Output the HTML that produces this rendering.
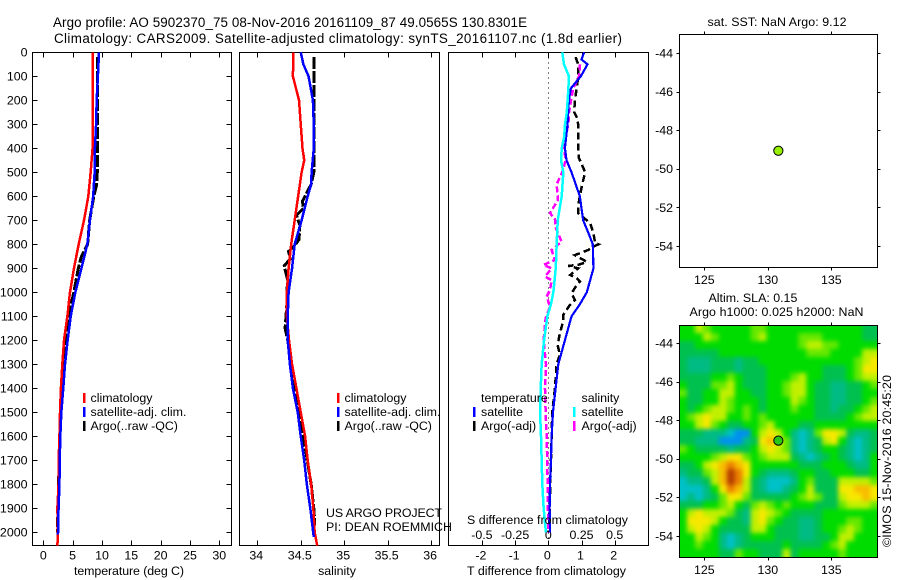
<!DOCTYPE html>
<html>
<head>
<meta charset="utf-8">
<title>Argo profile</title>
<style>
html,body{margin:0;padding:0;background:#fff;}
svg{display:block;}
text{font-family:"Liberation Sans",sans-serif;font-size:12.4px;fill:#000;}
</style>
</head>
<body>
<svg id="chart" xmlns="http://www.w3.org/2000/svg" width="900" height="580" viewBox="0 0 900 580">
<defs>
<clipPath id="clip-temp"><rect x="32" y="52" width="200" height="494"/></clipPath>
<clipPath id="clip-sal"><rect x="239" y="52" width="201" height="494"/></clipPath>
<clipPath id="clip-diff"><rect x="448" y="52" width="201" height="494"/></clipPath>
<clipPath id="clip-heat"><rect x="679" y="325" width="199" height="232"/></clipPath>
<filter id="heat-blur" filterUnits="userSpaceOnUse" x="650" y="300" width="250" height="280" color-interpolation-filters="sRGB"><feGaussianBlur stdDeviation="2.3"/></filter>
</defs>
<rect x="0" y="0" width="900" height="580" fill="#fff"/>

<text x="53" y="27" style="font-size:13.4px" textLength="474">Argo profile: AO 5902370_75 08-Nov-2016 20161109_87 49.0565S 130.8301E</text>
<text x="54" y="43" style="font-size:13.4px" textLength="568">Climatology: CARS2009. Satellite-adjusted climatology: synTS_20161107.nc (1.8d earlier)</text>

<g id="layer-heat"></g>
<g id="layer-axes"></g>
<g id="layer-series"></g>

<text x="129" y="575" text-anchor="middle" textLength="110">temperature (deg C)</text>
<text x="337" y="575" text-anchor="middle">salinity</text>
<text x="546.5" y="575" text-anchor="middle" textLength="159">T difference from climatology</text>
<text x="467" y="524" textLength="161">S difference from climatology</text>

<g>
<rect x="83" y="393" width="2.5" height="10" fill="#f00"/>
<text x="90.5" y="402">climatology</text>
<rect x="83" y="407" width="2.5" height="10" fill="#00f"/>
<text x="90.5" y="416" textLength="96">satellite-adj. clim.</text>
<rect x="83" y="421" width="2.5" height="10" fill="#000"/>
<text x="90.5" y="430">Argo(..raw -QC)</text>
</g>
<g>
<rect x="337" y="393" width="2.5" height="10" fill="#f00"/>
<text x="344.5" y="402">climatology</text>
<rect x="337" y="407" width="2.5" height="10" fill="#00f"/>
<text x="344.5" y="416" textLength="96">satellite-adj. clim.</text>
<rect x="337" y="421" width="2.5" height="10" fill="#000"/>
<text x="344.5" y="430">Argo(..raw -QC)</text>
</g>
<text x="326" y="517" textLength="116">US ARGO PROJECT</text>
<text x="326" y="531" textLength="126">PI: DEAN ROEMMICH</text>

<g>
<text x="481" y="402">temperature</text>
<rect x="473" y="407" width="2.5" height="10" fill="#00f"/>
<text x="481" y="416">satellite</text>
<rect x="473" y="421" width="2.5" height="10" fill="#000"/>
<text x="481" y="430">Argo(-adj)</text>
<text x="581.5" y="402">salinity</text>
<rect x="573" y="407" width="2.5" height="10" fill="#0ff"/>
<text x="581.5" y="416">satellite</text>
<rect x="573" y="421" width="2.5" height="10" fill="#f0f"/>
<text x="581.5" y="430">Argo(-adj)</text>
</g>

<text x="777" y="26" text-anchor="middle" textLength="139">sat. SST: NaN Argo: 9.12</text>
<text x="708.5" y="302">Altim. SLA: 0.15</text>
<text x="689.5" y="316" textLength="174">Argo h1000: 0.025 h2000: NaN</text>
<text transform="translate(891,547) rotate(-90)" textLength="172">©IMOS 15-Nov-2016 20:45:20</text>
</svg>

<script>
// ---- chart data ----
const depthTicks = [0,100,200,300,400,500,600,700,800,900,1000,1100,1200,1300,1400,1500,1600,1700,1800,1900,2000];
const tempTicks = [0,5,10,15,20,25,30];
const salTicks = [34,34.5,35,35.5,36];
const salTickLabels = ['34','34.5','35','35.5','36'];
const tDiffTicks = [-2,-1,0,1,2];
const sDiffTicks = [-0.5,-0.25,0,0.25,0.5];
const sDiffTickLabels = ['-0.5','-0.25','0','0.25','0.5'];
const lonTicks = [125,130,135];
const latTicks = [-44,-46,-48,-50,-52,-54];

const climDepths = [0,100,200,300,400,500,600,700,800,900,1000,1100,1200,1300,1400,1500,1600,1700,1800,1900,2000,2056];
const tempClim = [8.4,8.4,8.4,8.4,8.4,8.07,7.67,6.94,6.03,5.23,4.55,4.1,3.53,3.24,3.0,2.85,2.75,2.62,2.6,2.4,2.5,2.4];
const satDepths = [0,100,200,300,400,500,600,700,800,900,1000,1100,1200,1300,1400,1500,1600,1700,1800,1900,2010];
const tempSat = [9.5,9.3,9.1,9.0,8.8,8.75,8.5,7.95,7.5,6.5,5.46,4.67,4.15,3.7,3.4,3.07,2.9,2.8,2.75,2.6,2.5];
const argoTempDepths = [20,200,500,550,600,700,800,850,900,1000,1100,1200,1300,1400,1500,2000];
const tempArgo = [9.2,9.2,9.2,9.1,8.6,7.9,7.55,6.5,5.97,5.2,4.3,4.0,3.4,3.15,2.9,2.4];

const salClimDepths = [0,100,200,300,400,450,500,600,700,800,900,1000,1100,1200,1300,1400,1500,1600,1700,1800,1900,2000,2056];
const salClim = [34.414,34.41,34.48,34.5,34.52,34.54,34.51,34.47,34.43,34.39,34.36,34.34,34.34,34.365,34.4,34.45,34.5,34.55,34.58,34.62,34.645,34.66,34.69];
const salSatDepths = [0,50,100,200,300,400,500,550,600,700,800,900,1000,1100,1200,1300,1400,1500,1600,1700,1800,1900,2020];
const salSat = [34.5,34.53,34.59,34.64,34.65,34.65,34.625,34.62,34.58,34.51,34.43,34.4,34.36,34.35,34.35,34.375,34.41,34.465,34.5,34.54,34.57,34.61,34.65];
const salArgoDepths = [20,500,550,600,620,650,680,700,720,780,810,830,860,890,920,950,1000,1050,1100,1150,1200,1300,1400,1500,1600,1700,1800,1900,1950,2000];
const salArgo = [34.65,34.65,34.62,34.55,34.52,34.53,34.45,34.47,34.49,34.48,34.42,34.36,34.38,34.31,34.33,34.35,34.34,34.34,34.33,34.32,34.35,34.39,34.44,34.49,34.53,34.575,34.62,34.65,34.66,34.65];

const tDiffSatDepths = [0,30,50,100,150,200,300,400,450,500,600,700,750,800,900,1000,1050,1100,1200,1300,1400,1500,1600,1700,1800,1900,2000];
const tDiffSat = [1.08,1.0,1.18,0.98,0.68,0.62,0.58,0.5,0.55,0.7,0.95,1.05,1.2,1.34,1.36,1.16,0.95,0.7,0.5,0.3,0.22,0.14,0.1,0.08,0.05,0.04,0.05];
const sDiffSatDepths = [0,50,100,150,200,250,300,350,400,450,500,600,700,800,900,1000,1050,1100,1200,1300,1400,1500,1600,1700,1800,1900,2000];
const sDiffSat = [0.105,0.118,0.156,0.151,0.146,0.139,0.126,0.12,0.101,0.096,0.113,0.101,0.071,0.063,0.056,0.038,0.02,-0.007,-0.032,-0.05,-0.057,-0.062,-0.055,-0.05,-0.045,-0.035,-0.018];
const tDiffArgoDepths = [20,50,100,150,200,250,270,300,350,400,440,480,500,550,600,640,670,712,754,795,800,810,824,845,873,886,890,900,928,941,955,969,1004,1032,1053,1094,1120,1170,1220,1260,1300,1400,1500,2000];
const tDiffArgo = [0.82,0.9,0.9,0.855,0.8,0.78,0.855,0.9,0.9,0.9,0.92,1.05,1.11,1.02,0.95,0.9,0.9,1.26,1.36,1.41,1.51,1.36,1.2,0.8,1.16,0.9,0.6,0.9,0.66,0.86,0.96,0.86,0.7,0.8,0.65,0.45,0.45,0.35,0.28,0.35,0.25,0.2,0.12,0.02];
const sDiffArgoDepths = [50,100,150,200,250,300,350,400,450,500,550,615,670,695,730,789,824,865,886,900,935,949,990,1018,1060,1107,1200,1300,1400,1500,1600,1800,2000];
const sDiffArgo = [0.239,0.231,0.188,0.171,0.156,0.151,0.131,0.118,0.131,0.105,0.063,0.073,0.013,0.05,0.055,0.1,0.025,0.05,-0.037,0.025,-0.025,0.025,0.013,-0.012,0.013,-0.02,-0.035,-0.017,-0.025,-0.02,-0.012,-0.005,0];

const argoLon = [130.83];
const argoLat = [-49.0565];

// SLA map, one digit per cell (0 low ... a high)
const slaRows = [
"4465444445544444444444433",
"4446544445644445554444433",
"3344444444444445665544444",
"3333344444444444555444466",
"3222333233444444444444567",
"3222333233344444443334577",
"3333445433344456443334566",
"4333556433344566433223345",
"5334466443344566433223344",
"4334465444344465433223345",
"4345665454344454433233456",
"4567664454544444433334566",
"4467543344564443344444444",
"3332221004676421257763223",
"3322200023787521236742123",
"5433332334676521234432123",
"4444567754566632123432124",
"3346789874444443334443224",
"233568a974322234433444334",
"122368a963211124533366665",
"1112479863211234633377887",
"1212357753333345653367787",
"3334456435654544433356665",
"4676665326765433334444444",
"4777643326754332234445544",
"4676433336643332234456544",
"4465421234443332233466444",
"4454421233333433334564444",
"4444433544333634444454444"
];
const slaColors = ['#0090f0','#00c0c8','#00bc84','#00c050','#00dc00','#66e800','#c0f000','#f8e800','#f8bc00','#ec8000','#b43c00'];

// ---- scales ----
const NS = 'http://www.w3.org/2000/svg';
const yDepth = d => 52.3 + 0.24 * d;
const xTemp = v => 43.3 + 5.867 * v;
const xSal = v => 257.3 + 86.9 * (v - 34);
const xTDiff = v => 548.3 + 33.2 * v;
const xSDiff = v => 548.3 + 132.8 * v;
const xLon = v => 704.3 + 12.7 * (v - 125);
const yLat1 = v => 53.3 + 19.27 * (-44 - v);
const yLat2 = v => 343 + 19.3 * (-44 - v);

const axesLayer = document.getElementById('layer-axes');
const seriesLayer = document.getElementById('layer-series');
const heatLayer = document.getElementById('layer-heat');

function addLine(parent, x1, y1, x2, y2, name) {
  const el = document.createElementNS(NS, 'line');
  
  
  el.setAttribute('x1', Math.round(x1) + 0.5);
  el.setAttribute('y1', Math.round(y1) + 0.5);
  el.setAttribute('x2', Math.round(x2) + 0.5);
  el.setAttribute('y2', Math.round(y2) + 0.5);
  el.setAttribute('stroke', '#000');
  el.setAttribute('stroke-width', '1');
  el.setAttribute('shape-rendering', 'crispEdges');
  parent.appendChild(el);
  return el;
}
function addLabel(parent, x, y, str, anchor, name) {
  const el = document.createElementNS(NS, 'text');
  
  
  el.setAttribute('x', x);
  el.setAttribute('y', y);
  el.setAttribute('text-anchor', anchor);
  el.textContent = str;
  parent.appendChild(el);
  return el;
}
function addFrame(x, y, w, h, name) {
  const el = document.createElementNS(NS, 'rect');
  
  
  el.setAttribute('x', x + 0.5);
  el.setAttribute('y', y + 0.5);
  el.setAttribute('width', w);
  el.setAttribute('height', h);
  el.setAttribute('fill', 'none');
  el.setAttribute('stroke', '#000');
  el.setAttribute('stroke-width', '1');
  el.setAttribute('shape-rendering', 'crispEdges');
  axesLayer.appendChild(el);
}
function addSeries(clipId, xs, depths, scale, color, width, dash, name) {
  const el = document.createElementNS(NS, 'polyline');
  
  
  el.setAttribute('points', depths.map((d, i) => scale(xs[i]).toFixed(2) + ',' + yDepth(d).toFixed(2)).join(' '));
  el.setAttribute('fill', 'none');
  el.setAttribute('stroke', color);
  el.setAttribute('stroke-width', width);
  if (dash) el.setAttribute('stroke-dasharray', dash);
  el.setAttribute('clip-path', 'url(#' + clipId + ')');
  el.setAttribute('shape-rendering', 'crispEdges');
  seriesLayer.appendChild(el);
}
function addMarker(cx, cy, fill, name) {
  const el = document.createElementNS(NS, 'circle');
  
  
  el.setAttribute('cx', cx);
  el.setAttribute('cy', cy);
  el.setAttribute('r', '4.6');
  el.setAttribute('fill', fill);
  el.setAttribute('stroke', '#000');
  el.setAttribute('stroke-width', '1');
  seriesLayer.appendChild(el);
}

// ---- panel frames ----
const P1 = {l:32, r:231, t:52, b:545};
const P2 = {l:239, r:439, t:52, b:545};
const P3 = {l:448, r:648, t:52, b:545};
addFrame(P1.l, P1.t, P1.r - P1.l, P1.b - P1.t, 'temperature-plot-frame');
addFrame(P2.l, P2.t, P2.r - P2.l, P2.b - P2.t, 'salinity-plot-frame');
addFrame(P3.l, P3.t, P3.r - P3.l, P3.b - P3.t, 'difference-plot-frame');

// depth axis
depthTicks.forEach(d => {
  const y = yDepth(d);
  addLine(axesLayer, P1.l, y, P1.l + 5, y, 'depth-tick');
  addLine(axesLayer, P1.r - 5, y, P1.r, y, 'depth-tick');
  addLabel(axesLayer, 27.5, y + 4.3, String(d), 'end', 'depth-tick-label');
});
// temperature axis
tempTicks.forEach(v => {
  const x = xTemp(v);
  addLine(axesLayer, x, P1.t, x, P1.t + 5, 'temperature-tick');
  addLine(axesLayer, x, P1.b - 5, x, P1.b, 'temperature-tick');
  addLabel(axesLayer, x, 559.5, String(v), 'middle', 'temperature-tick-label');
});
// salinity axis
salTicks.forEach((v, i) => {
  const x = xSal(v);
  addLine(axesLayer, x, P2.t, x, P2.t + 5, 'salinity-tick');
  addLine(axesLayer, x, P2.b - 5, x, P2.b, 'salinity-tick');
  addLabel(axesLayer, x - 1, 559.5, salTickLabels[i], 'middle', 'salinity-tick-label');
});
// difference axes
tDiffTicks.forEach(v => {
  const x = xTDiff(v);
  addLine(axesLayer, x, P3.t, x, P3.t + 5, 'difference-tick');
  addLine(axesLayer, x, P3.b - 5, x, P3.b, 'difference-tick');
  addLabel(axesLayer, x - 1, 559.5, String(v), 'middle', 't-difference-tick-label');
});
sDiffTicks.forEach((v, i) => {
  addLabel(axesLayer, xSDiff(v), 539, sDiffTickLabels[i], 'middle', 's-difference-tick-label');
});
const zeroLine = addLine(axesLayer, xTDiff(0), P3.t, xTDiff(0), P3.b, 'zero-difference-line');
zeroLine.setAttribute('stroke-dasharray', '1 4');

// ---- SLA heat map ----
const cellW = 199 / 25, cellH = 232 / 29;
const heatClip = document.createElementNS(NS, 'g');
heatClip.setAttribute('clip-path', 'url(#clip-heat)');
const heatBlur = document.createElementNS(NS, 'g');


heatBlur.setAttribute('filter', 'url(#heat-blur)');
slaRows.forEach((row, r) => {
  for (let c = 0; c < row.length; c++) {
    const v = parseInt(row[c], 16);
    const cell = document.createElementNS(NS, 'rect');
    
    
    const x0 = c === 0 ? 660 : 679 + c * cellW;
    const x1 = c === row.length - 1 ? 895 : 679 + (c + 1) * cellW;
    const y0 = r === 0 ? 305 : 325 + r * cellH;
    const y1 = r === slaRows.length - 1 ? 575 : 325 + (r + 1) * cellH;
    cell.setAttribute('x', x0);
    cell.setAttribute('y', y0);
    cell.setAttribute('width', x1 - x0 + 0.5);
    cell.setAttribute('height', y1 - y0 + 0.5);
    cell.setAttribute('fill', slaColors[v]);
    heatBlur.appendChild(cell);
  }
});
heatClip.appendChild(heatBlur);
heatLayer.appendChild(heatClip);

// ---- map axes ----
addFrame(679, 34, 198, 233, 'sst-map-frame');
addFrame(679, 325, 198, 232, 'sla-map-frame');
lonTicks.forEach(v => {
  const x = xLon(v);
  addLine(axesLayer, x, 34, x, 31, 'sst-map-lon-tick');
  addLine(axesLayer, x, 267, x, 270, 'sst-map-lon-tick');
  addLabel(axesLayer, x, 284, String(v), 'middle', 'sst-map-lon-label');
  addLine(axesLayer, x, 325, x, 322, 'sla-map-lon-tick');
  addLine(axesLayer, x, 557, x, 560, 'sla-map-lon-tick');
  addLabel(axesLayer, x, 574, String(v), 'middle', 'sla-map-lon-label');
});
latTicks.forEach(v => {
  const y1 = yLat1(v), y2 = yLat2(v);
  addLine(axesLayer, 679, y1, 676, y1, 'sst-map-lat-tick');
  addLine(axesLayer, 877, y1, 880, y1, 'sst-map-lat-tick');
  addLabel(axesLayer, 673, y1 + 4.3, String(v), 'end', 'sst-map-lat-label');
  addLine(axesLayer, 679, y2, 676, y2, 'sla-map-lat-tick');
  addLine(axesLayer, 877, y2, 880, y2, 'sla-map-lat-tick');
  addLabel(axesLayer, 673, y2 + 4.3, String(v), 'end', 'sla-map-lat-label');
});

// ---- series ----
addSeries('clip-temp', tempArgo, argoTempDepths, xTemp, '#000', 3, '12 2', 'temperature-argo-line');
addSeries('clip-temp', tempClim, climDepths, xTemp, '#f00', 2.5, '', 'temperature-climatology-line');
addSeries('clip-temp', tempSat, satDepths, xTemp, '#00f', 2.5, '', 'temperature-satellite-line');
addSeries('clip-sal', salArgo, salArgoDepths, xSal, '#000', 3, '12 2', 'salinity-argo-line');
addSeries('clip-sal', salClim, salClimDepths, xSal, '#f00', 2.5, '', 'salinity-climatology-line');
addSeries('clip-sal', salSat, salSatDepths, xSal, '#00f', 2.5, '', 'salinity-satellite-line');
addSeries('clip-diff', tDiffArgo, tDiffArgoDepths, xTDiff, '#000', 2.5, '7 4', 't-difference-argo-line');
addSeries('clip-diff', sDiffArgo, sDiffArgoDepths, xSDiff, '#f0f', 2.5, '6 3', 's-difference-argo-line');
addSeries('clip-diff', tDiffSat, tDiffSatDepths, xTDiff, '#00f', 2.2, '', 't-difference-satellite-line');
addSeries('clip-diff', sDiffSat, sDiffSatDepths, xSDiff, '#0ff', 2.5, '', 's-difference-satellite-line');

addMarker(xLon(argoLon[0]), yLat1(argoLat[0]), '#96f000', 'sst-map-argo-marker');
addMarker(xLon(argoLon[0]), yLat2(argoLat[0]), '#28c814', 'sla-map-argo-marker');
</script>
</body>
</html>
